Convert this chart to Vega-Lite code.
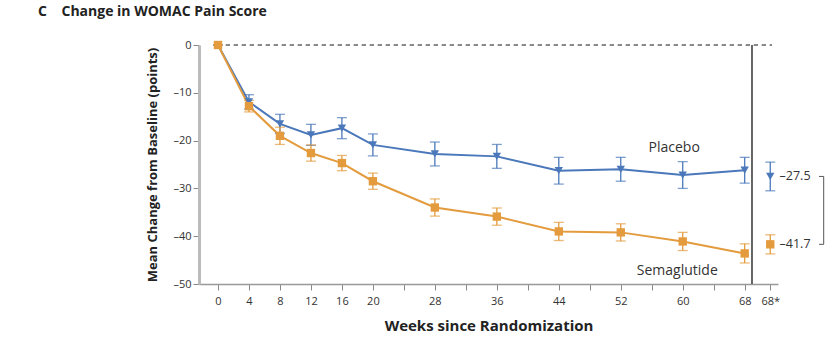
{
  "$schema": "https://vega.github.io/schema/vega-lite/v6.json",
  "width": 579,
  "height": 239,
  "autosize": {"type": "none"},
  "padding": {"left": 199, "top": 45, "right": 50, "bottom": 53},
  "background": "white",
  "config": {
    "font": "Open Sans",
    "view": {"stroke": null},
    "axis": {"grid": false, "labelFont": "Open Sans", "titleFont": "Open Sans"}
  },
  "title": {
    "text": "C\u00a0\u00a0\u00a0\u00a0Change in WOMAC Pain Score",
    "anchor": "start",
    "frame": "group",
    "dx": -161,
    "offset": 20,
    "fontSize": 14,
    "fontWeight": "bold",
    "color": "#222222",
    "font": "Open Sans"
  },
  "datasets": {
    "series": [
      {"group": "Placebo", "week": 0, "mean": 0, "lo": 0, "hi": 0, "kind": "trajectory"},
      {"group": "Placebo", "week": 4, "mean": -11.9, "lo": -13.4, "hi": -10.4, "kind": "trajectory"},
      {"group": "Placebo", "week": 8, "mean": -16.5, "lo": -18.5, "hi": -14.5, "kind": "trajectory"},
      {"group": "Placebo", "week": 12, "mean": -18.8, "lo": -21.0, "hi": -16.6, "kind": "trajectory"},
      {"group": "Placebo", "week": 16, "mean": -17.4, "lo": -19.6, "hi": -15.2, "kind": "trajectory"},
      {"group": "Placebo", "week": 20, "mean": -20.9, "lo": -23.2, "hi": -18.6, "kind": "trajectory"},
      {"group": "Placebo", "week": 28, "mean": -22.8, "lo": -25.3, "hi": -20.3, "kind": "trajectory"},
      {"group": "Placebo", "week": 36, "mean": -23.3, "lo": -25.8, "hi": -20.8, "kind": "trajectory"},
      {"group": "Placebo", "week": 44, "mean": -26.3, "lo": -29.1, "hi": -23.5, "kind": "trajectory"},
      {"group": "Placebo", "week": 52, "mean": -26.0, "lo": -28.5, "hi": -23.5, "kind": "trajectory"},
      {"group": "Placebo", "week": 60, "mean": -27.2, "lo": -30.0, "hi": -24.4, "kind": "trajectory"},
      {"group": "Placebo", "week": 68, "mean": -26.2, "lo": -28.9, "hi": -23.5, "kind": "trajectory"},
      {"group": "Placebo", "week": 71.3, "mean": -27.5, "lo": -30.5, "hi": -24.5, "kind": "final", "label": "–27.5"},
      {"group": "Semaglutide", "week": 0, "mean": 0, "lo": 0, "hi": 0, "kind": "trajectory"},
      {"group": "Semaglutide", "week": 4, "mean": -12.8, "lo": -14.0, "hi": -11.6, "kind": "trajectory"},
      {"group": "Semaglutide", "week": 8, "mean": -19.0, "lo": -20.8, "hi": -17.2, "kind": "trajectory"},
      {"group": "Semaglutide", "week": 12, "mean": -22.6, "lo": -24.3, "hi": -20.9, "kind": "trajectory"},
      {"group": "Semaglutide", "week": 16, "mean": -24.7, "lo": -26.3, "hi": -23.1, "kind": "trajectory"},
      {"group": "Semaglutide", "week": 20, "mean": -28.5, "lo": -30.2, "hi": -26.8, "kind": "trajectory"},
      {"group": "Semaglutide", "week": 28, "mean": -34.0, "lo": -35.8, "hi": -32.2, "kind": "trajectory"},
      {"group": "Semaglutide", "week": 36, "mean": -35.9, "lo": -37.7, "hi": -34.1, "kind": "trajectory"},
      {"group": "Semaglutide", "week": 44, "mean": -39.0, "lo": -40.9, "hi": -37.1, "kind": "trajectory"},
      {"group": "Semaglutide", "week": 52, "mean": -39.2, "lo": -41.0, "hi": -37.4, "kind": "trajectory"},
      {"group": "Semaglutide", "week": 60, "mean": -41.1, "lo": -43.0, "hi": -39.2, "kind": "trajectory"},
      {"group": "Semaglutide", "week": 68, "mean": -43.6, "lo": -45.6, "hi": -41.6, "kind": "trajectory"},
      {"group": "Semaglutide", "week": 71.3, "mean": -41.7, "lo": -43.7, "hi": -39.7, "kind": "final", "label": "–41.7"}
    ],
    "labels": [
      {"text": "Placebo", "week": 58.9, "value": -21.5},
      {"text": "Semaglutide", "week": 59.3, "value": -47.3}
    ]
  },
  "data": {"name": "series"},
  "encoding": {
    "x": {
      "field": "week",
      "type": "quantitative",
      "scale": {"domain": [-2.45, 72.3], "nice": false, "zero": false},
      "axis": {
        "title": "Weeks since Randomization",
        "titleFontSize": 15,
        "titleFontWeight": "bold",
        "titleColor": "#222222",
        "titlePadding": 12,
        "values": [0, 4, 8, 12, 16, 20, 24, 28, 32, 36, 40, 44, 48, 52, 56, 60, 64, 68, 71.3],
        "labelExpr": "datum.value == 71.3 ? '68*' : (indexof([24,32,40,48,56,64], datum.value) >= 0 ? '' : datum.label)",
        "labelFontSize": 11,
        "labelColor": "#333333",
        "labelPadding": 5,
        "tickSize": 6,
        "tickColor": "#888888",
        "domainColor": "#999999",
        "domainWidth": 1.5,
        "labelFlush": false
      }
    },
    "y": {
      "field": "mean",
      "type": "quantitative",
      "scale": {"domain": [-50, 0], "nice": false},
      "axis": {
        "title": "Mean Change from Baseline (points)",
        "titleFontSize": 13,
        "titleFontWeight": "bold",
        "titleColor": "#222222",
        "titlePadding": 13,
        "values": [0, -10, -20, -30, -40, -50],
        "labelExpr": "datum.value < 0 ? '\u2013' + format(-datum.value, 'd') : '0'",
        "labelFontSize": 11,
        "labelColor": "#333333",
        "labelPadding": 2,
        "tickSize": 6,
        "tickColor": "#888888",
        "domainColor": "#bbbbbb",
        "domainWidth": 3
      }
    }
  },
  "layer": [
    {
      "mark": {"type": "rule", "strokeDash": [4, 4], "color": "#888888", "strokeWidth": 1},
      "encoding": {
        "x": {"datum": 0},
        "x2": {"datum": 71.5},
        "y": {"datum": 0}
      }
    },
    {
      "mark": {"type": "rule", "color": "#666666", "strokeWidth": 1.2},
      "encoding": {
        "x": {"datum": 68.9},
        "y": {"datum": 0},
        "y2": {"datum": -50}
      }
    },
    {
      "transform": [{"filter": "datum.kind == 'trajectory'"}],
      "mark": {"type": "line", "strokeWidth": 2},
      "encoding": {
        "color": {"field": "group", "type": "nominal", "scale": {"domain": ["Placebo", "Semaglutide"], "range": ["#4a78ba", "#e39b3d"]}, "legend": null}
      }
    },
    {
      "mark": {"type": "rule", "strokeWidth": 1.3},
      "encoding": {
        "y": {"field": "lo", "type": "quantitative"},
        "y2": {"field": "hi"},
        "color": {"field": "group", "type": "nominal", "legend": null}
      }
    },
    {
      "mark": {"type": "tick", "orient": "horizontal", "thickness": 1.3, "size": 10},
      "encoding": {
        "y": {"field": "lo", "type": "quantitative"},
        "color": {"field": "group", "type": "nominal", "legend": null}
      }
    },
    {
      "mark": {"type": "tick", "orient": "horizontal", "thickness": 1.3, "size": 10},
      "encoding": {
        "y": {"field": "hi", "type": "quantitative"},
        "color": {"field": "group", "type": "nominal", "legend": null}
      }
    },
    {
      "mark": {"type": "point", "filled": true, "opacity": 1, "size": 70},
      "encoding": {
        "color": {"field": "group", "type": "nominal", "legend": null},
        "shape": {"field": "group", "type": "nominal", "scale": {"domain": ["Placebo", "Semaglutide"], "range": ["triangle-down", "square"]}, "legend": null}
      }
    },
    {
      "transform": [{"filter": "datum.kind == 'final'"}],
      "mark": {"type": "text", "align": "left", "baseline": "middle", "fontSize": 12.5, "color": "#333333"},
      "encoding": {
        "x": {"datum": 72.5},
        "text": {"field": "label"}
      }
    },
    {
      "transform": [{"filter": "datum.kind == 'final'"}],
      "mark": {"type": "rule", "color": "#555555", "strokeWidth": 1},
      "encoding": {
        "x": {"datum": 77.6},
        "x2": {"datum": 78.2}
      }
    },
    {
      "transform": [{"filter": "datum.kind == 'final'"}],
      "mark": {"type": "line", "color": "#555555", "strokeWidth": 1},
      "encoding": {
        "x": {"datum": 78.2},
        "y": {"field": "mean", "type": "quantitative"}
      }
    },
    {
      "data": {"name": "labels"},
      "mark": {"type": "text", "fontSize": 14, "color": "#333333", "align": "center", "baseline": "middle"},
      "encoding": {
        "x": {"field": "week", "type": "quantitative"},
        "y": {"field": "value", "type": "quantitative"},
        "text": {"field": "text"}
      }
    }
  ]
}
